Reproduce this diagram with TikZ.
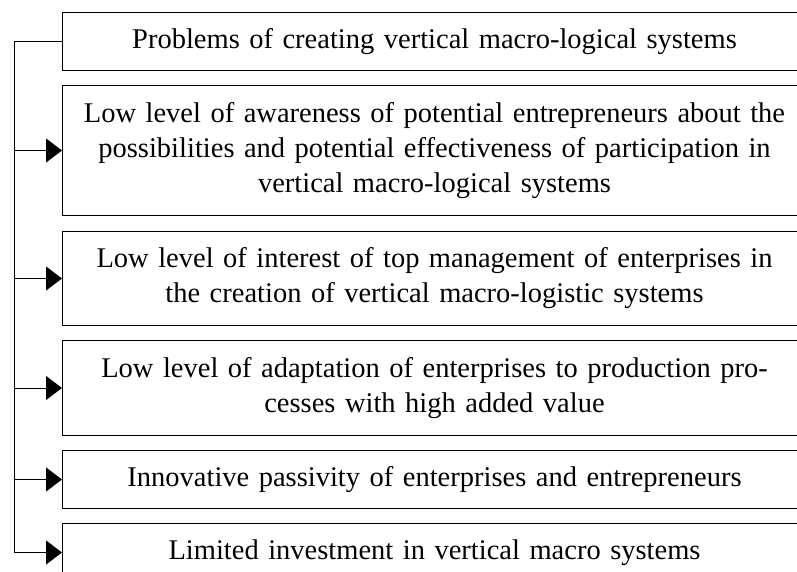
\documentclass[tikz,border=0pt]{standalone}
\usepackage{fontspec}
\setmainfont{Liberation Serif}
\usetikzlibrary{positioning,arrows.meta}
\tikzset{ 
  problem/.style={ 
    % The shape: 
    rectangle, 
    % The size: 
    minimum width=744pt, 
    text width=720pt, 
    inner sep=0pt, 
    % The border: 
    draw=black, 
    line width=1pt, 
    % Font 
    align=center, 
    font=\fontsize{28.5}{35}\selectfont 
  } 
}
\tikzstyle{line} = [draw, line width=1pt, -{Triangle[length=16pt,width=24pt]}]

\begin{document}
\begin{tikzpicture}[node distance=14pt]
\useasboundingbox (0,0) rectangle (797pt,-572pt);
\clip (0,0) rectangle (797pt,-572pt);
\node [problem, anchor=north west, minimum height=58pt] (prob) at (62pt,-12pt) {Problems of creating vertical macro-logical systems};
\node [problem, below=of prob, minimum height=130pt] (aware) {Low level of awareness of potential entrepreneurs about the\\ possibilities and potential effectiveness of participation in\\ vertical macro-logical systems};
\node [problem, below=15pt of aware, minimum height=94pt] (interest) {Low level of interest of top management of enterprises in\\ the creation of vertical macro-logistic systems};
\node [problem, below=of interest, minimum height=95pt] (adapt) {Low level of adaptation of enterprises to production pro-\\ cesses with high added value};
\node [problem, below=of adapt, minimum height=58pt] (passive) {Innovative passivity of enterprises and entrepreneurs};
\node [problem, below=of passive, minimum height=58pt] (limit) {Limited investment in vertical macro systems};
% Draw edges
\coordinate (trunk) at ([xshift=-48pt]prob.west);
\draw [line width=1pt] (prob.west) -- (trunk) -- (trunk |- limit.west);
\foreach \n in {aware,interest,adapt,passive,limit}
  \path [line] (trunk |- \n.west) -- (\n.west);
\end{tikzpicture}
\end{document}
